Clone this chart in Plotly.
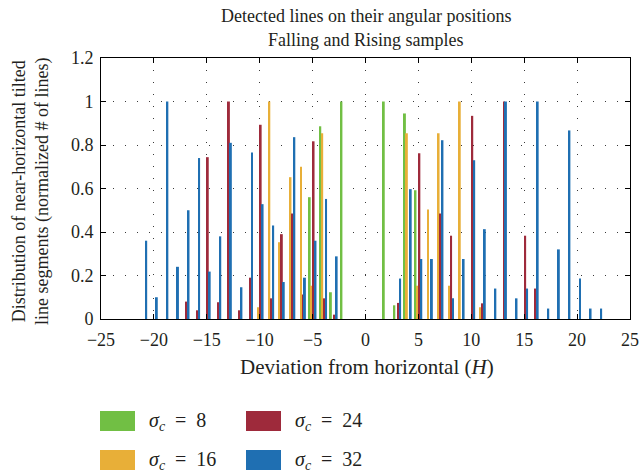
import plotly.graph_objects as go

# ---- data ----
positions = list(range(-23, 24))

green_vals = {-5: 0.56, -4: 0.886, -3: 0.123, -2: 1.0, 2: 1.0, 3: 0.063, 4: 0.945, 5: 0.592}
orange_vals = {-10: 0.054, -9: 1.0, -8: 0.353, -7: 0.652, -6: 0.70, -5: 0.153, -4: 0.854,
               4: 0.854, 5: 0.153, 6: 0.503, 7: 0.854, 8: 0.153, 9: 1.0, 11: 0.054}
red_vals = {-17: 0.08, -16: 0.04, -15: 0.744, -14: 0.077, -13: 1.0, -12: 0.04, -11: 0.19,
            -10: 0.893, -9: 0.095, -8: 0.39, -7: 0.485, -6: 0.113, -5: 0.817, -4: 0.095,
            -3: 0.02, 3: 0.074, 5: 0.762, 7: 0.485, 8: 0.383, 10: 0.934, 11: 0.072,
            13: 1.0, 15: 0.383, 16: 0.14}
blue_vals = {-21: 0.36, -20: 0.10, -19: 1.0, -18: 0.24, -17: 0.50, -16: 0.74, -15: 0.218,
             -14: 0.38, -13: 0.81, -12: 0.146, -11: 0.765, -10: 0.528, -9: 0.43, -8: 0.17,
             -7: 0.836, -6: 0.19, -5: 0.36, -4: 0.552, -3: 0.288, 3: 0.186, 4: 0.597,
             5: 0.276, 6: 0.276, 7: 0.822, 8: 0.095, 9: 0.276, 10: 0.73, 11: 0.413,
             12: 0.14, 13: 1.0, 14: 0.095, 15: 0.14, 16: 1.0, 17: 0.048, 18: 0.32,
             19: 0.867, 20: 0.186, 21: 0.048, 22: 0.048}

series_names = ["σc = 8", "σc = 16", "σc = 24", "σc = 32"]
series_labels = ["<i>σ</i><sub><i>c</i></sub>  =  8", "<i>σ</i><sub><i>c</i></sub>  =  16",
                 "<i>σ</i><sub><i>c</i></sub>  =  24", "<i>σ</i><sub><i>c</i></sub>  =  32"]
series_data = [green_vals, orange_vals, red_vals, blue_vals]
colors = ["#71BF44", "#E8AF38", "#9E2A3B", "#1F6FB2"]

x_ticks = [-25, -20, -15, -10, -5, 0, 5, 10, 15, 20, 25]
y_ticks = [0, 0.2, 0.4, 0.6, 0.8, 1, 1.2]

title_lines = ["Detected lines on their angular positions", "Falling and Rising samples"]

FONT = "Liberation Serif"
TXT = "#231F20"

fig = go.Figure()
for name, data, col in zip(series_names, series_data, colors):
    fig.add_trace(go.Bar(
        x=positions,
        y=[data.get(p, 0) for p in positions],
        name=name,
        marker=dict(color=col, line=dict(width=0)),
        showlegend=False,
    ))

W, H = 640, 472
L, R, T, B = 101, 10, 58, 153  # plot box margins (px)
pw = W - L - R
ph = H - T - B


def px2x(px):
    return (px - L) / pw


def py2y(py):
    return (H - B - py) / ph


grid = dict(showgrid=True, gridcolor="#3a3a3a", gridwidth=1, griddash="1px,11px")

fig.update_layout(
    width=W, height=H,
    margin=dict(l=L, r=R, t=T, b=B, autoexpand=False),
    paper_bgcolor="white", plot_bgcolor="white",
    barmode="group", bargap=0.27, bargroupgap=0,
    font=dict(family=FONT, size=18, color=TXT),
    xaxis=dict(
        range=[-25, 25], tickvals=x_ticks, zeroline=False, automargin=False,
        showline=True, linecolor="black", linewidth=1, mirror="ticks",
        ticks="inside", ticklen=5, tickcolor="black",
        tickfont=dict(family=FONT, size=18, color=TXT),
        ticklabelstandoff=4,
        **grid,
    ),
    yaxis=dict(
        range=[0, 1.2], tickvals=y_ticks, zeroline=False, automargin=False,
        showline=True, linecolor="black", linewidth=1, mirror="ticks",
        ticks="inside", ticklen=5, tickcolor="black",
        tickfont=dict(family=FONT, size=18, color=TXT),
        ticklabelstandoff=3,
        **grid,
    ),
    showlegend=False,
)

# title (two lines)
for line, yc in zip(title_lines, [16, 40]):
    fig.add_annotation(
        text=line, xref="paper", yref="paper", x=px2x(366), y=py2y(yc),
        showarrow=False, xanchor="center", yanchor="middle",
        font=dict(family=FONT, size=18, color=TXT),
    )

# axis titles
fig.add_annotation(
    text="Deviation from horizontal (<i>H</i>)",
    xref="paper", yref="paper", x=px2x(367), y=py2y(367),
    showarrow=False, xanchor="center", yanchor="middle",
    font=dict(family=FONT, size=21, color=TXT),
)
fig.add_annotation(
    text="Distribution of near-horizontal tilted<br>line segments (normalized # of lines)",
    xref="paper", yref="paper", x=px2x(31), y=py2y(192),
    showarrow=False, textangle=-90, xanchor="center", yanchor="middle",
    font=dict(family=FONT, size=18, color=TXT),
)

# custom legend (2 columns x 2 rows): col1 = green, orange ; col2 = red, blue
legend_layout = [(0, 0), (0, 1), (1, 0), (1, 1)]  # (column, row) per series
col_x = [100, 246]
row_y = [421, 460]
sw_w, sw_h = 35, 20
for (c, r), lab, col in zip(legend_layout, series_labels, colors):
    x0 = col_x[c]
    yc = row_y[r]
    fig.add_shape(
        type="rect", xref="paper", yref="paper",
        x0=px2x(x0), x1=px2x(x0 + sw_w),
        y0=py2y(yc + sw_h / 2), y1=py2y(yc - sw_h / 2),
        fillcolor=col, line=dict(width=0),
    )
    fig.add_annotation(
        text=lab, xref="paper", yref="paper",
        x=px2x(x0 + sw_w + 12), y=py2y(yc),
        showarrow=False, xanchor="left", yanchor="middle",
        font=dict(family=FONT, size=20, color=TXT),
    )

fig.write_html("out.html")
